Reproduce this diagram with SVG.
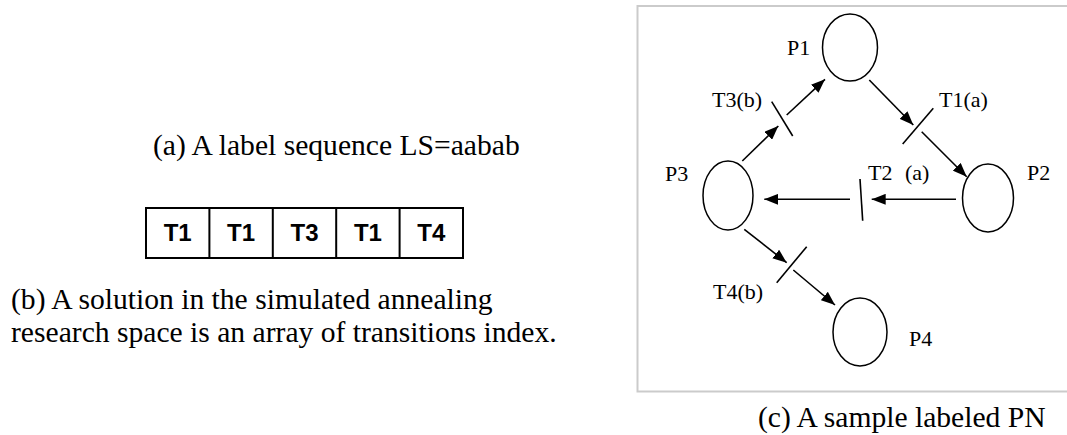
<svg xmlns="http://www.w3.org/2000/svg" width="1067" height="435" viewBox="0 0 1067 435">
<style>
.t{font-family:"Liberation Serif","Times New Roman",serif;fill:#000}
.cap{font-size:29.6px}
.lab{font-size:22px}
.cell{font-family:"Liberation Sans",Arial,sans-serif;font-size:24px;font-weight:bold;text-anchor:middle;fill:#000}
.pl{fill:#fff;stroke:#000;stroke-width:1.5}
.bar{stroke:#000;stroke-width:1.6;fill:none}
.arc{stroke:#000;stroke-width:1.6;fill:none;marker-end:url(#ah)}
</style>
<defs>
<marker id="ah" markerUnits="userSpaceOnUse" viewBox="0 0 14 11" markerWidth="14" markerHeight="11" refX="14" refY="5.5" orient="auto">
<path d="M0,0 L14,5.5 L0,11 z" fill="#000"/>
</marker>
</defs>
<rect width="1067" height="435" fill="#fff"/>
<g id="caption-a"><text class="t cap" x="153" y="155">(a) A label sequence LS=aabab</text></g>
<g id="solution-array">
<rect x="146" y="208" width="317" height="50" fill="#fff" stroke="#000" stroke-width="2"/>
<path d="M209.4,208V258M272.8,208V258M336.2,208V258M399.6,208V258" stroke="#000" stroke-width="2"/>
<text class="cell" x="177.7" y="241">T1</text>
<text class="cell" x="241.1" y="241">T1</text>
<text class="cell" x="304.5" y="241">T3</text>
<text class="cell" x="367.9" y="241">T1</text>
<text class="cell" x="431.3" y="241">T4</text>
</g>
<g id="caption-b"><text class="t cap" x="11" y="309">(b) A solution in the simulated annealing</text>
<text class="t cap" x="11" y="342">research space is an array of transitions index.</text></g>
<g id="frame"><path d="M1068,6H637.5V391.5H1068" fill="none" stroke="#cbcbcb" stroke-width="2"/></g>
<g id="P1"><ellipse class="pl" cx="850" cy="47.5" rx="27.5" ry="33.5"/><text class="t lab" x="787" y="55">P1</text></g>
<g id="P2"><ellipse class="pl" cx="988" cy="198" rx="25.5" ry="34"/><text class="t lab" x="1027" y="180">P2</text></g>
<g id="P3"><ellipse class="pl" cx="728" cy="195.5" rx="25" ry="34.5"/><text class="t lab" x="665" y="181">P3</text></g>
<g id="P4"><ellipse class="pl" cx="860" cy="332" rx="27" ry="34"/><text class="t lab" x="909" y="346">P4</text></g>
<g id="T1"><line class="bar" x1="933.3" y1="108.3" x2="902.7" y2="144"/><text class="t lab" x="939" y="107">T1(a)</text></g>
<g id="T2"><line class="bar" x1="860" y1="179" x2="862.7" y2="220.7"/><text class="t lab" x="868" y="180">T2</text><text class="t lab" x="905" y="180">(a)</text></g>
<g id="T3"><line class="bar" x1="771.7" y1="101.7" x2="792.7" y2="136"/><text class="t lab" x="712" y="107">T3(b)</text></g>
<g id="T4"><line class="bar" x1="806.7" y1="246.7" x2="776.7" y2="282.7"/><text class="t lab" x="713" y="299">T4(b)</text></g>
<g id="connectors">
<line class="arc" x1="742.3" y1="161" x2="778.3" y2="126"/>
<line class="arc" x1="786.7" y1="115" x2="825" y2="79.3"/>
<line class="arc" x1="869.3" y1="80" x2="913.3" y2="125"/>
<line class="arc" x1="921.7" y1="131.7" x2="966.7" y2="176.7"/>
<line class="arc" x1="956" y1="199.3" x2="871.7" y2="199.3"/>
<line class="arc" x1="850" y1="199.3" x2="764.3" y2="199.3"/>
<line class="arc" x1="744.3" y1="229.3" x2="786.7" y2="262.7"/>
<line class="arc" x1="793.3" y1="270" x2="835" y2="305"/>
</g>
<g id="caption-c"><text class="t cap" x="758" y="427">(c) A sample labeled PN</text></g>
</svg>
